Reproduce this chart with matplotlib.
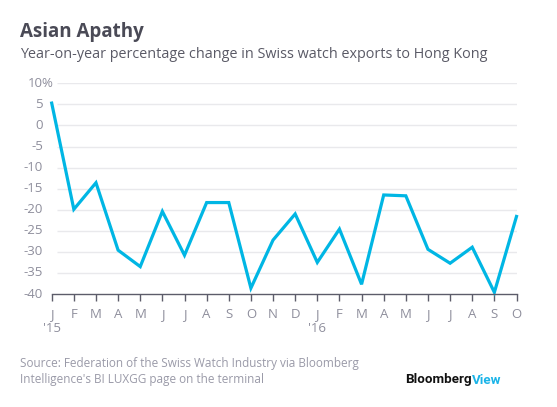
import matplotlib
matplotlib.use("Agg")
import matplotlib.pyplot as plt

months = ["J", "F", "M", "A", "M", "J", "J", "A", "S", "O", "N", "D",
          "J", "F", "M", "A", "M", "J", "J", "A", "S", "O"]
year_labels = {0: "'15", 12: "'16"}
values = [5.3, -19.9, -13.6, -29.6, -33.5, -20.4, -30.8, -18.3, -18.3, -38.6,
          -27.2, -21.0, -32.5, -24.6, -37.7, -16.5, -16.7, -29.4, -32.7, -28.9,
          -39.6, -21.6]
yticks = [10, 5, 0, -5, -10, -15, -20, -25, -30, -35, -40]

W, H = 557, 407
fig = plt.figure(figsize=(W / 100, H / 100), dpi=100)
fig.patch.set_facecolor("white")

left, right = 51.7, 516.5
top, bottom = 83.3, 294.0
ax = fig.add_axes([left / W, 1 - bottom / H, (right - left) / W, (bottom - top) / H])
ax.set_xlim(0, len(values) - 1)
ax.set_ylim(-40, 10)
ax.set_facecolor("none")

x = list(range(len(values)))
grid_start = (56.7 - left) / (right - left) * (len(values) - 1)
ax.hlines(yticks[:-1], grid_start, len(values) - 1, color="#e9e9ec", lw=1.0, zorder=1)
ax.plot(x, values, color="#00b6e4", lw=2.3, solid_joinstyle="miter", zorder=3, clip_on=False)

for s in ["top", "right", "left"]:
    ax.spines[s].set_visible(False)
ax.spines["bottom"].set_color("#5c5c6a")
ax.spines["bottom"].set_linewidth(1.0)
ax.spines["bottom"].set_zorder(4)

ax.set_yticks([])
ax.set_xticks(x)
ax.set_xticklabels(months)
ax.tick_params(axis="x", length=5, width=1.0, color="#5c5c6a", labelcolor="#8e8e9c",
               labelsize=9.5, pad=5)
for lab in ax.get_xticklabels():
    lab.set_fontfamily("Open Sans")

tick_color = "#8e8e9c"
num_right = 43.0 / W
for v in yticks:
    yf = 1 - (bottom - (v + 40) / 50 * (bottom - top)) / H
    fig.text(num_right, yf, str(v), ha="right", va="center", color=tick_color,
             fontsize=9.5, family="Open Sans")
    if v == 10:
        fig.text(num_right - 1.5 / W, yf, "%", ha="left", va="center", color=tick_color,
                 fontsize=9.5, family="Open Sans")

for i, lab in year_labels.items():
    ax.text(i, -0.165, lab, transform=ax.get_xaxis_transform(), ha="center", va="center",
            color=tick_color, fontsize=9.5, family="Open Sans")

fig.text(20 / W, 1 - 32 / H, "Asian Apathy", ha="left", va="center", color="#4a4a56",
         fontsize=13.5, fontweight="bold", family="Open Sans")
fig.text(20 / W, 1 - 54 / H, "Year-on-year percentage change in Swiss watch exports to Hong Kong",
         ha="left", va="center", color="#5a5a66", fontsize=10.4, family="Open Sans")
fig.text(20 / W, 1 - 363 / H, "Source: Federation of the Swiss Watch Industry via Bloomberg",
         ha="left", va="center", color="#9a9aa8", fontsize=8.5, family="Open Sans")
fig.text(20 / W, 1 - 379 / H, "Intelligence's BI LUXGG page on the terminal",
         ha="left", va="center", color="#9a9aa8", fontsize=8.5, family="Open Sans")

t = fig.text(405 / W, 1 - 380 / H, "Bloomberg", ha="left", va="center", color="#111111",
             fontsize=9.6, fontweight="bold", family="Roboto")
fig.canvas.draw()
bb = t.get_window_extent()
fig.text(bb.x1 / W, 1 - 380 / H, "View", ha="left", va="center", color="#1ab4e8",
         fontsize=9.6, fontweight="bold", family="Roboto")

fig.savefig("out.png", dpi=100, facecolor="white")
